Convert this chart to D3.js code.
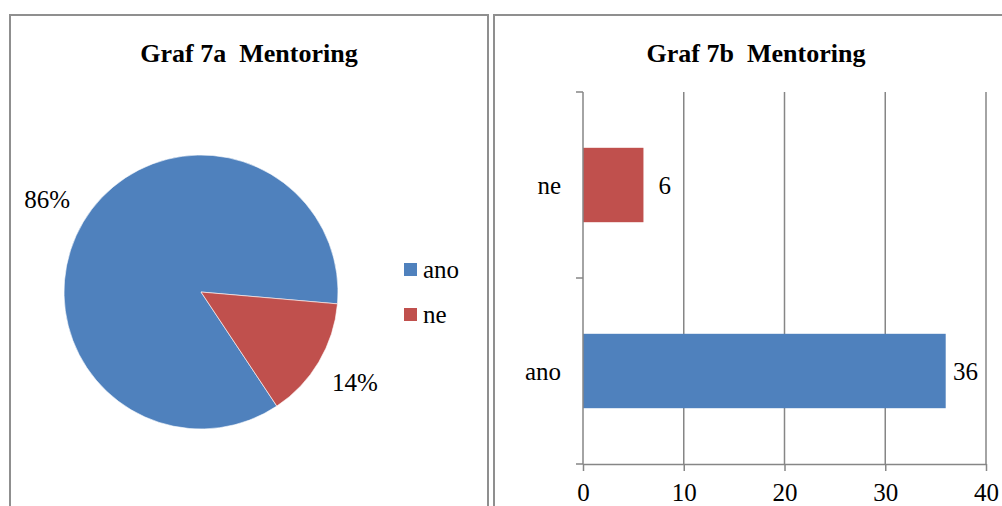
<!DOCTYPE html>
<meta charset="utf-8">
<style>
body { margin: 0; background: #fff; }
.axis path, .axis line { stroke: #868686; stroke-width: 1.5; fill: none; }
.grid line { stroke: #868686; stroke-width: 1.5; }
</style>
<body>
<script src="https://cdn.jsdelivr.net/npm/d3@7"></script>
<script>

// data
var categories = ["ano", "ne"];
var counts = [36, 6];
var colors = ["#4f81bd", "#c0504d"];
var xTicks = [0, 10, 20, 30, 40];
var titles = ["Graf 7a\u00a0\u00a0Mentoring", "Graf 7b\u00a0\u00a0Mentoring"];

var width = 1002, height = 506;
var serif = "Liberation Serif";

var svg = d3.select("body").append("svg")
  .attr("width", width)
  .attr("height", height)
  .attr("font-family", serif);

// panel frames
svg.append("rect")
  .attr("x", 10).attr("y", 15).attr("width", 478).attr("height", 520)
  .attr("fill", "none").attr("stroke", "#8f8f8f").attr("stroke-width", 2);
svg.append("rect")
  .attr("x", 494).attr("y", 15).attr("width", 540).attr("height", 520)
  .attr("fill", "none").attr("stroke", "#8f8f8f").attr("stroke-width", 2);

// titles
svg.selectAll("text.title")
  .data(titles)
  .enter().append("text")
  .attr("class", "title")
  .attr("x", function(d, i) { return i ? 756 : 249; })
  .attr("y", 62)
  .attr("text-anchor", "middle")
  .style("font-size", "26px").style("font-weight", "bold")
  .text(function(d) { return d; });

// ---- pie ----
var data = categories.map(function(c, i) { return {cat: c, value: counts[i], color: colors[i]}; });
var total = d3.sum(counts);

var pie = d3.pie()
  .sort(null)
  .value(function(d) { return d.value; })
  .startAngle(146.4 * Math.PI / 180)
  .endAngle(146.4 * Math.PI / 180 + 2 * Math.PI);

var r = 137;
var arc = d3.arc().innerRadius(0).outerRadius(r);

var pieG = svg.append("g")
  .attr("transform", "translate(201,292)");

pieG.selectAll("path")
  .data(pie(data))
  .enter().append("path")
  .attr("d", arc)
  .attr("fill", function(d) { return d.data.color; })
  .attr("stroke", "#fff")
  .attr("stroke-width", 0.6);

var pct = d3.format(".0%");
// percent labels outside the slices
var labelArc = d3.arc().innerRadius(r + 42).outerRadius(r + 42);
pieG.selectAll("text.pct")
  .data(pie(data))
  .enter().append("text")
  .attr("class", "pct")
  .attr("transform", function(d) {
    var p = labelArc.centroid(d);
    return "translate(" + p[0] + "," + p[1] + ")";
  })
  .attr("text-anchor", "middle")
  .attr("dy", "0.3em")
  .style("font-size", "25px")
  .text(function(d) { return pct(d.data.value / total); });

// legend
var legend = svg.append("g")
  .attr("transform", "translate(404,263)");
var li = legend.selectAll("g")
  .data(data)
  .enter().append("g")
  .attr("transform", function(d, i) { return "translate(0," + (i * 45) + ")"; });
li.append("rect")
  .attr("width", 13).attr("height", 13)
  .attr("fill", function(d) { return d.color; });
li.append("text")
  .attr("x", 19).attr("y", 15)
  .style("font-size", "25px")
  .text(function(d) { return d.cat; });

// ---- horizontal bar ----
var x = d3.scaleLinear().domain([0, 40]).range([583, 986]);
var y = d3.scaleBand()
  .domain(categories.slice().reverse())
  .range([92, 464])
  .paddingInner(0.6)
  .paddingOuter(0.3);

var barG = svg.append("g");

barG.append("g")
  .attr("class", "grid")
  .selectAll("line")
  .data(xTicks.slice(1))
  .enter().append("line")
  .attr("x1", function(d) { return x(d); })
  .attr("x2", function(d) { return x(d); })
  .attr("y1", 92).attr("y2", 464);

barG.selectAll("rect.bar")
  .data(data)
  .enter().append("rect")
  .attr("class", "bar")
  .attr("x", x(0))
  .attr("y", function(d) { return y(d.cat); })
  .attr("width", function(d) { return x(d.value) - x(0); })
  .attr("height", y.bandwidth())
  .attr("fill", function(d) { return d.color; });

// x axis
var xAxis = d3.axisBottom(x).tickValues(xTicks).tickSize(7).tickSizeOuter(0).tickPadding(12);
barG.append("g")
  .attr("class", "axis")
  .attr("transform", "translate(0,464)")
  .call(xAxis)
  .attr("font-family", serif)
  .attr("font-size", 25);

// y axis with ticks on the category boundaries
var yEdges = [92, 278, 464];
barG.append("line")
  .attr("x1", x(0)).attr("x2", x(0))
  .attr("y1", 92).attr("y2", 464)
  .attr("stroke", "#868686").attr("stroke-width", 1.5);
barG.selectAll("line.ytick")
  .data(yEdges)
  .enter().append("line")
  .attr("class", "ytick")
  .attr("x1", x(0) - 7).attr("x2", x(0))
  .attr("y1", function(d) { return d; })
  .attr("y2", function(d) { return d; })
  .attr("stroke", "#868686").attr("stroke-width", 1.5);

barG.selectAll("text.cat")
  .data(data)
  .enter().append("text")
  .attr("class", "cat")
  .attr("x", x(0) - 22)
  .attr("y", function(d) { return y(d.cat) + y.bandwidth() / 2; })
  .attr("dy", "0.35em")
  .attr("text-anchor", "end")
  .style("font-size", "25px")
  .text(function(d) { return d.cat; });

// value labels, kept inside the plot area
barG.selectAll("text.val")
  .data(data)
  .enter().append("text")
  .attr("class", "val")
  .attr("y", function(d) { return y(d.cat) + y.bandwidth() / 2; })
  .attr("dy", "0.35em")
  .style("font-size", "25px")
  .text(function(d) { return d.value; })
  .attr("x", function(d) {
    var w = this.getComputedTextLength();
    return Math.min(x(d.value) + 15, x(40) - w - 8);
  });

</script>
</body>
